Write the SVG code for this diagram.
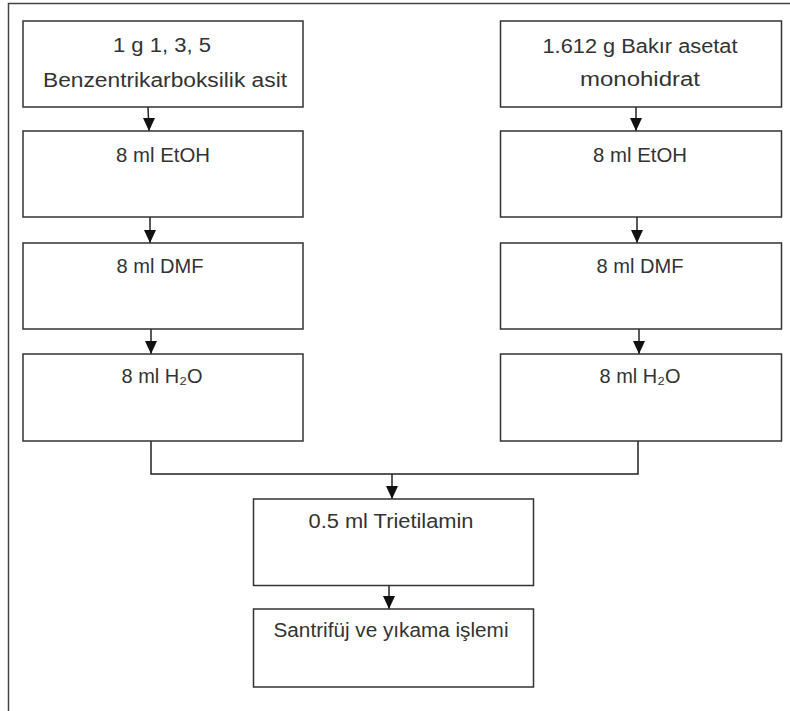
<svg xmlns="http://www.w3.org/2000/svg" width="790" height="711" viewBox="0 0 790 711">
<style>
.box{fill:#fff;stroke:#333;stroke-width:1.5}
.t{font-family:"Liberation Sans",Arial,sans-serif;font-size:20px;fill:#333;text-anchor:middle}
.c{fill:none;stroke:#222;stroke-width:1.5}
.ah{fill:#111}
</style>
<rect x="0" y="0" width="790" height="711" fill="#fff"/>
<path d="M8.5,711 V3.5 H790" fill="none" stroke="#444" stroke-width="1.5"/>
<g id="connectors">
<line class="c" x1="148" y1="107" x2="149" y2="131"/>
<line class="c" x1="150" y1="217" x2="150" y2="243"/>
<line class="c" x1="151" y1="329" x2="151" y2="354"/>
<line class="c" x1="636" y1="107" x2="636" y2="131"/>
<line class="c" x1="637" y1="217" x2="637" y2="243"/>
<line class="c" x1="639" y1="329" x2="639" y2="354"/>
<path class="c" d="M151,441 V474 H638 V441"/>
<line class="c" x1="392" y1="474" x2="392" y2="499"/>
<line class="c" x1="389" y1="586" x2="389" y2="609"/>
<path class="ah" d="M143,118 L155,118 L149,131 Z"/>
<path class="ah" d="M144,230 L156,230 L150,243 Z"/>
<path class="ah" d="M145,341 L157,341 L151,354 Z"/>
<path class="ah" d="M630,118 L642,118 L636,131 Z"/>
<path class="ah" d="M631,230 L643,230 L637,243 Z"/>
<path class="ah" d="M633,341 L645,341 L639,354 Z"/>
<path class="ah" d="M386,486 L398,486 L392,499 Z"/>
<path class="ah" d="M383,596 L395,596 L389,609 Z"/>
</g>
<g id="n1"><rect class="box" x="23" y="21" width="280" height="86"/>
<text class="t" x="162" y="52" textLength="98" lengthAdjust="spacingAndGlyphs">1 g 1, 3, 5</text>
<text class="t" x="165" y="87" textLength="244" lengthAdjust="spacingAndGlyphs">Benzentrikarboksilik asit</text></g>
<g id="n2"><rect class="box" x="23" y="131" width="280" height="86"/>
<text class="t" x="163" y="162" textLength="94" lengthAdjust="spacingAndGlyphs">8 ml EtOH</text></g>
<g id="n3"><rect class="box" x="23" y="243" width="280" height="86"/>
<text class="t" x="160" y="273" textLength="87" lengthAdjust="spacingAndGlyphs">8 ml DMF</text></g>
<g id="n4"><rect class="box" x="23" y="354" width="280" height="87"/>
<text class="t" x="162" y="383" textLength="81" lengthAdjust="spacingAndGlyphs">8 ml H₂O</text></g>
<g id="n5"><rect class="box" x="500.5" y="21" width="281" height="86"/>
<text class="t" x="640" y="53" textLength="195" lengthAdjust="spacingAndGlyphs">1.612 g Bakır asetat</text>
<text class="t" x="640" y="86" textLength="120" lengthAdjust="spacingAndGlyphs">monohidrat</text></g>
<g id="n6"><rect class="box" x="500.5" y="131" width="281" height="86"/>
<text class="t" x="640" y="162" textLength="94" lengthAdjust="spacingAndGlyphs">8 ml EtOH</text></g>
<g id="n7"><rect class="box" x="500.5" y="243" width="281" height="86"/>
<text class="t" x="640" y="273" textLength="87" lengthAdjust="spacingAndGlyphs">8 ml DMF</text></g>
<g id="n8"><rect class="box" x="500.5" y="354" width="281" height="87"/>
<text class="t" x="640" y="383" textLength="81" lengthAdjust="spacingAndGlyphs">8 ml H₂O</text></g>
<g id="n9"><rect class="box" x="253.5" y="499" width="280" height="86.5"/>
<text class="t" x="391" y="528" textLength="165" lengthAdjust="spacingAndGlyphs">0.5 ml Trietilamin</text></g>
<g id="n10"><rect class="box" x="253.5" y="609" width="280" height="78"/>
<text class="t" x="391" y="637" textLength="235" lengthAdjust="spacingAndGlyphs">Santrifüj ve yıkama işlemi</text></g>
</svg>
